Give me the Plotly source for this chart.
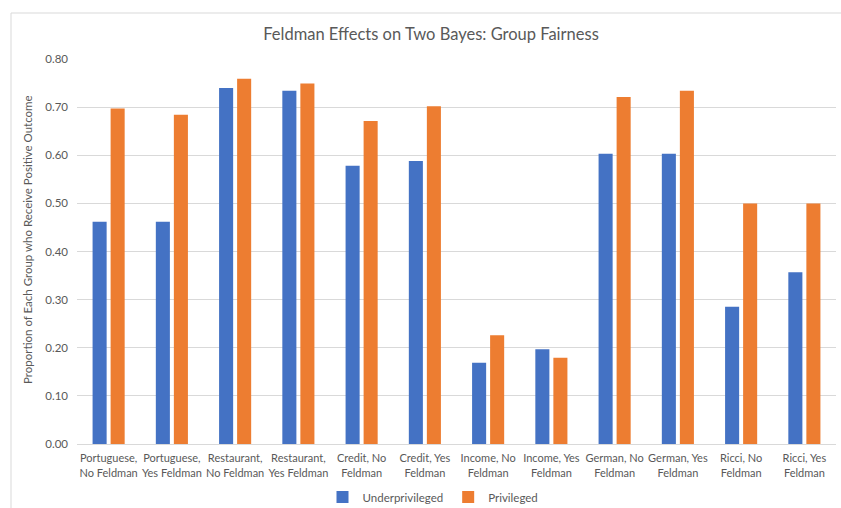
import plotly.graph_objects as go

categories = [
    "Portuguese,<br>No Feldman", "Portuguese,<br>Yes Feldman",
    "Restaurant,<br>No Feldman", "Restaurant,<br>Yes Feldman",
    "Credit, No<br>Feldman", "Credit, Yes<br>Feldman",
    "Income, No<br>Feldman", "Income, Yes<br>Feldman",
    "German, No<br>Feldman", "German, Yes<br>Feldman",
    "Ricci, No<br>Feldman", "Ricci, Yes<br>Feldman",
]
underprivileged = [0.462, 0.462, 0.740, 0.734, 0.578, 0.588, 0.169, 0.197, 0.603, 0.603, 0.285, 0.357]
privileged = [0.697, 0.684, 0.759, 0.749, 0.671, 0.702, 0.226, 0.179, 0.721, 0.734, 0.500, 0.500]

FONT = "Lato"
GRAY = "#595959"

fig = go.Figure()
fig.add_trace(go.Bar(name="Underprivileged", x=categories, y=underprivileged,
                     marker=dict(color="#4472C4", line=dict(width=0))))
fig.add_trace(go.Bar(name="Privileged", x=categories, y=privileged,
                     marker=dict(color="#ED7D31", line=dict(width=0))))

W, H = 841, 508
L, R, T, B = 77, 5, 59, 64
pw, ph = W - L - R, H - T - B

fig.update_layout(
    width=W, height=H,
    margin=dict(l=L, r=R, t=T, b=B, autoexpand=False),
    paper_bgcolor="white", plot_bgcolor="white",
    barmode="group", bargap=0.43, bargroupgap=0.22,
    font=dict(family=FONT, size=12, color=GRAY),
    title=dict(text="Feldman Effects on Two Bayes: Group Fairness",
               x=(431 - L) / pw, xref="paper", xanchor="center",
               y=1 - 34 / H, yref="container", yanchor="middle",
               font=dict(family=FONT, size=16.5, color=GRAY)),
    legend=dict(orientation="h", x=(433 - L) / pw, xanchor="center",
                y=(T + ph - 497) / ph, yanchor="middle",
                font=dict(family=FONT, size=11.5, color=GRAY),
                itemwidth=30, tracegroupgap=0),
    showlegend=True,
)
fig.update_yaxes(range=[0, 0.8], dtick=0.1, tickformat=".2f", automargin=False,
                 showgrid=True, gridcolor="#d9d9d9", gridwidth=1,
                 zeroline=False, showline=False, ticks="", ticklabelstandoff=8,
                 tickfont=dict(family=FONT, size=11.5, color=GRAY))
fig.update_xaxes(showline=True, linecolor="#d9d9d9", linewidth=1, ticks="", automargin=False,
                 tickangle=0, ticklabelstandoff=4,
                 tickfont=dict(family=FONT, size=11, color=GRAY))

# y-axis title as annotation (centered like the reference)
fig.add_annotation(text="Proportion of Each Group who Receive Positive Outcome",
                   xref="paper", yref="paper", x=(27 - L) / pw, y=(T + ph - 240) / ph,
                   xanchor="center", yanchor="middle", textangle=-90, showarrow=False,
                   font=dict(family=FONT, size=11.5, color=GRAY))

# outer chart-area border (top and left)
fig.add_shape(type="line", xref="paper", yref="paper",
              x0=(11 - L) / pw, x1=(W - L) / pw, y0=(T + ph - 13) / ph, y1=(T + ph - 13) / ph,
              line=dict(color="#d9d9d9", width=1))
fig.add_shape(type="line", xref="paper", yref="paper",
              x0=(11 - L) / pw, x1=(11 - L) / pw, y0=(T + ph - 13) / ph, y1=(T + ph - H) / ph,
              line=dict(color="#d9d9d9", width=1))

fig.write_html("out.html")
